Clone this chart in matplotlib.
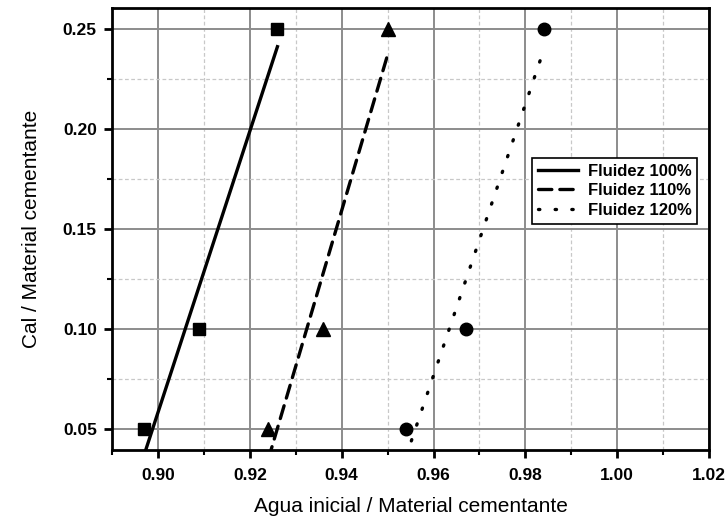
import numpy as np
import matplotlib
matplotlib.use("Agg")
import matplotlib.pyplot as plt
from matplotlib.ticker import MultipleLocator

plt.rcParams["font.family"] = ["Liberation Sans", "DejaVu Sans"]

cal = [0.05, 0.10, 0.25]
agua_100 = [0.897, 0.909, 0.926]
agua_110 = [0.924, 0.936, 0.950]
agua_120 = [0.954, 0.967, 0.984]
labels = ["Fluidez 100%", "Fluidez 110%", "Fluidez 120%"]

series = [
    (agua_100, "s", "-"),
    (agua_110, "^", (0, (4, 2.4))),
    (agua_120, "o", (0, (0.4, 4.6))),
]

fig = plt.figure(figsize=(7.28, 5.18), dpi=100)
ax = fig.add_axes([0.154, 0.131, 0.820, 0.854])

for (xs, marker, ls), label in zip(series, labels):
    ax.plot(xs, cal, linestyle="none", marker=marker, color="black",
            markersize=9 if marker != "^" else 10, zorder=3)
    slope, icpt = np.polyfit(xs, cal, 1)
    xf = np.array([min(xs), max(xs)])
    ax.plot(xf, slope * xf + icpt, linestyle=ls, color="black", lw=2.4,
            dash_capstyle="round", label=label, zorder=2)

ax.set_xlim(0.89, 1.02)
ax.set_ylim(0.0395, 0.2605)
ax.xaxis.set_major_locator(MultipleLocator(0.02))
ax.xaxis.set_minor_locator(MultipleLocator(0.01))
ax.yaxis.set_major_locator(MultipleLocator(0.05))
ax.yaxis.set_minor_locator(MultipleLocator(0.025))
ax.xaxis.set_major_formatter(plt.FormatStrFormatter("%.2f"))
ax.yaxis.set_major_formatter(plt.FormatStrFormatter("%.2f"))

ax.grid(which="major", color="#8c8c8c", lw=1.4, ls="-")
ax.grid(which="minor", color="#c8c8c8", lw=0.9, ls=(0, (3, 2)))
ax.set_axisbelow(True)

for side in ["top", "right", "left", "bottom"]:
    ax.spines[side].set_linewidth(2)
ax.tick_params(which="major", direction="out", length=6, width=2, labelsize=12.5)
ax.tick_params(axis="x", which="major", pad=7)
ax.tick_params(axis="y", which="major", pad=5)
ax.tick_params(which="minor", direction="out", length=3.5, width=1.5)
ax.tick_params(top=False, right=False, which="both")
for t in ax.get_xticklabels() + ax.get_yticklabels():
    t.set_fontweight("bold")

ax.set_xlabel("Agua inicial / Material cementante", fontsize=15, labelpad=10)
ax.set_ylabel("Cal / Material cementante", fontsize=15, labelpad=16)

leg = ax.legend(loc="upper left", bbox_to_anchor=(0.703, 0.661), frameon=True,
                fancybox=False, edgecolor="black", framealpha=1,
                prop={"size": 12, "weight": "bold"}, handlelength=2.4,
                borderpad=0.35, labelspacing=0.28, handletextpad=0.6,
                borderaxespad=0)
leg.get_frame().set_linewidth(1.2)

fig.savefig("out.png", dpi=100)
